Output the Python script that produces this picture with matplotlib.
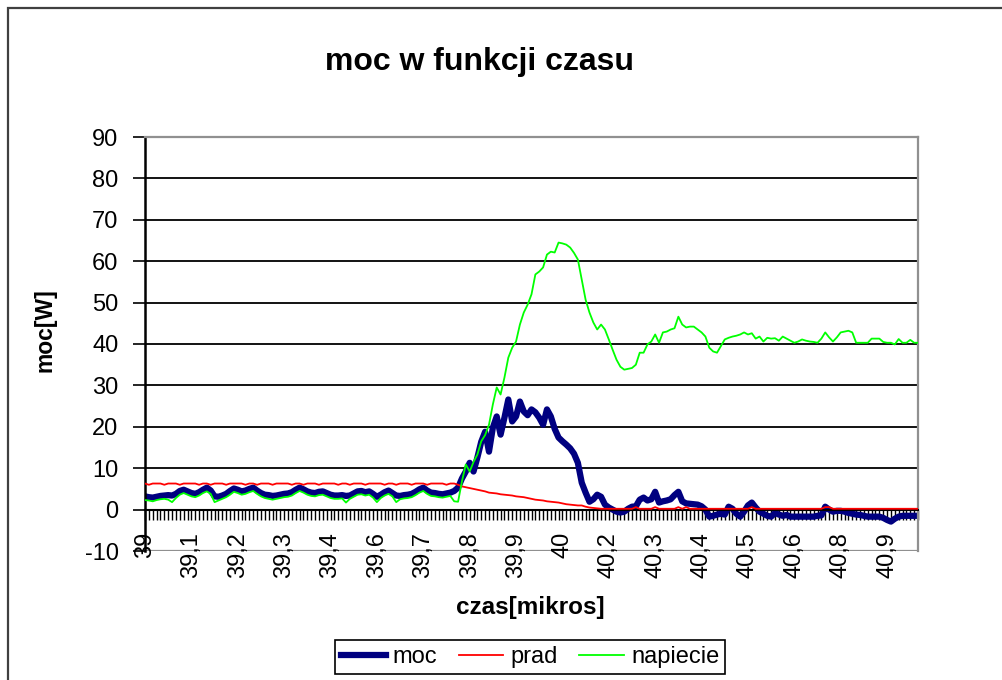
import matplotlib
matplotlib.use('Agg')
import matplotlib.pyplot as plt
from matplotlib.patches import Rectangle

plt.rcParams['font.family'] = ['Liberation Sans', 'DejaVu Sans']

# category labels shown on the x axis (every 12th sample)
czas_labels = ['39', '39,1', '39,2', '39,3', '39,4', '39,6', '39,7', '39,8', '39,9',
               '40', '40,2', '40,3', '40,4', '40,5', '40,6', '40,8', '40,9']
label_step = 12

# power [W]
moc = [3.2, 3.0, 2.9, 3.1, 3.3, 3.4, 3.5, 3.4, 3.8, 4.5,
       4.8, 4.4, 4.0, 3.8, 4.2, 4.8, 5.3, 4.6, 3.2, 3.1,
       3.4, 3.8, 4.5, 5.1, 4.8, 4.4, 4.6, 5.0, 5.3, 4.6,
       4.0, 3.6, 3.5, 3.3, 3.4, 3.6, 3.8, 3.9, 4.2, 4.8,
       5.3, 4.9, 4.4, 4.1, 4.0, 4.3, 4.4, 4.0, 3.6, 3.4,
       3.4, 3.5, 3.3, 3.4, 3.9, 4.4, 4.5, 4.2, 4.4, 3.8,
       3.1, 3.6, 4.2, 4.6, 4.0, 3.4, 3.3, 3.5, 3.6, 3.8,
       4.3, 4.9, 5.3, 4.6, 4.1, 4.0, 3.8, 3.7, 3.9, 4.1,
       4.5,
       5.3, 7.5, 9.2, 11.3, 9.2, 12.6, 16.4, 18.8, 14.0, 19.8,
       22.5, 18.1, 22.2, 26.6, 21.3, 22.5, 26.1, 23.7, 22.8, 24.2,
       23.5, 22.2, 20.5, 24.2, 22.5, 19.5, 17.4, 16.5, 15.7, 14.8,
       13.5, 11.3, 6.5, 4.1, 1.9, 2.5, 3.6, 3.1, 1.2, 0.5,
       0.0, -0.5, -0.7, -0.5, 0.2, 0.7, 0.8, 2.4, 2.9, 2.2,
       2.5, 4.3, 1.7, 2.0, 2.2, 2.5, 3.5, 4.3, 2.0, 1.5,
       1.4, 1.3, 1.2, 0.8, 0.0, -1.7, -1.5, -1.2, -1.0, -1.2,
       0.7, 0.2, -1.0, -1.7, -0.5, 1.0, 1.7, 0.5, -0.5, -1.0,
       -1.5, -1.7, -0.8, -1.2, -1.5, -1.3, -1.7, -1.7, -1.7, -1.7,
       -1.7, -1.7, -1.7, -1.5, -1.4, 0.7, 0.0, -0.5, -0.3, -0.3,
       -0.5, -0.8, -1.0, -1.2, -1.3, -1.5, -1.7, -1.7, -1.7, -1.7,
       -2.0, -2.5, -2.9, -2.2, -1.7, -1.5, -1.5, -1.5, -1.5, -1.5]

# current
prad = [6.3, 6.0, 6.3, 6.3, 6.3, 6.0, 6.3, 6.3, 6.3, 6.0,
        6.3, 6.3, 6.3, 6.3, 6.0, 6.3, 6.3, 6.0, 6.3, 6.3,
        6.3, 6.0, 6.3, 6.3, 6.3, 6.3, 6.0, 6.3, 6.3, 6.0,
        6.3, 6.3, 6.3, 6.0, 6.3, 6.3, 6.3, 6.3, 6.0, 6.3,
        6.3, 6.0, 6.3, 6.3, 6.3, 6.0, 6.3, 6.3, 6.3, 6.3,
        6.0, 6.3, 6.3, 6.0, 6.3, 6.3, 6.3, 6.0, 6.3, 6.3,
        6.3, 6.3, 6.0, 6.3, 6.3, 6.0, 6.3, 6.3, 6.3, 6.0,
        6.3, 6.3, 6.3, 6.0, 6.3, 6.3, 6.3, 6.3, 6.0, 6.3,
        6.3,
        6.0, 5.6, 5.4, 5.2, 5.0, 4.8, 4.6, 4.4, 4.1, 4.0,
        3.9, 3.7, 3.6, 3.5, 3.4, 3.2, 3.1, 3.0, 2.8, 2.6,
        2.4, 2.3, 2.2, 2.0, 1.9, 1.8, 1.7, 1.5, 1.3, 1.2,
        1.1, 1.0, 1.0, 0.7, 0.5, 0.4, 0.3, 0.2, 0.2, 0.2,
        0.2, 0.2, 0.2, 0.2, 0.2, 0.2, 0.6, 0.2, 0.2, 0.2,
        0.2, 0.6, 0.2, 0.2, 0.2, 0.2, 0.2, 0.6, 0.2, 0.6,
        0.2, 0.2, 0.2, 0.2, 0.2, 0.2, 0.2, 0.2, 0.2, 0.2,
        0.2, 0.2, 0.2, 0.2, 0.2, 0.2, 0.6, 0.2, 0.2, 0.2,
        0.2, 0.2, 0.2, 0.2, 0.2, 0.2, 0.2, 0.2, 0.2, 0.2,
        0.2, 0.2, 0.2, 0.2, 0.2, 0.6, 0.6, 0.2, 0.2, 0.2,
        0.2, 0.2, 0.2, 0.2, 0.2, 0.2, 0.2, 0.2, 0.2, 0.2,
        0.2, 0.2, 0.2, 0.2, 0.2, 0.2, 0.2, 0.2, 0.2, 0.2]

# voltage
napiecie = [2.3, 2.2, 2.0, 2.3, 2.5, 2.6, 2.4, 1.8, 2.8, 3.6,
            4.0, 3.6, 3.2, 3.0, 3.4, 4.0, 4.4, 3.8, 1.8, 2.2,
            2.6, 3.0, 3.6, 4.3, 4.0, 3.6, 3.8, 4.2, 4.5, 3.8,
            3.2, 2.8, 2.6, 2.4, 2.6, 2.8, 3.0, 3.1, 3.4, 4.0,
            4.5, 4.1, 3.6, 3.3, 3.2, 3.5, 3.6, 3.2, 2.8, 2.6,
            2.6, 2.7, 1.7, 2.6, 3.1, 3.6, 3.7, 3.4, 3.6, 2.9,
            1.8, 2.8, 3.4, 3.8, 3.2, 1.8, 2.5, 2.7, 2.8, 3.0,
            3.5, 4.1, 4.5, 3.8, 3.3, 3.2, 3.0, 2.9, 3.1, 3.3,
            2.0,
            1.9, 6.8, 10.9, 9.2, 11.5, 13.3, 16.5, 18.0, 20.5, 25.4,
            29.5, 27.8, 31.9, 36.7, 39.1, 40.6, 44.7, 47.6, 49.5, 52.0,
            56.8, 57.5, 58.5, 61.6, 62.3, 62.1, 64.5, 64.3, 64.0, 63.3,
            62.0, 60.4, 55.6, 50.7, 47.6, 45.2, 43.5, 44.7, 43.5, 41.1,
            38.6, 36.2, 34.5, 33.8, 34.0, 34.2, 35.0, 37.9, 37.9, 39.9,
            40.6, 42.3, 40.3, 42.8, 43.0, 43.5, 43.8, 46.6, 44.7, 44.0,
            44.2, 44.2, 43.5, 42.8, 41.8, 39.1, 38.2, 37.9, 39.5, 41.1,
            41.5, 41.8, 42.0, 42.3, 42.8, 42.3, 42.6, 41.3, 41.8, 40.6,
            41.5, 41.3, 41.4, 40.8, 41.8, 41.3, 40.8, 40.3, 40.6, 41.1,
            40.8, 40.6, 40.5, 40.3, 41.3, 42.8, 41.6, 40.6, 41.6, 42.8,
            43.0, 43.2, 42.8, 40.3, 40.3, 40.3, 40.3, 41.3, 41.3, 41.3,
            40.5, 40.3, 40.3, 39.9, 41.2, 40.3, 40.3, 41.0, 40.3, 40.3]

n = len(moc)
x = list(range(n))

fig = plt.figure(figsize=(10.02, 6.8), dpi=100)

# outer chart frame (runs off the right and bottom edge)
fig.patches.append(Rectangle((8/1002, -0.1), 1.2, 1.1 - 8/680, transform=fig.transFigure,
                             fill=False, edgecolor='#404040', lw=1.6))

ax = fig.add_axes([145/1002, 129/680, 773/1002, 414/680])

# category axis crosses at 0 -- set before the ticks, it resets them
ax.spines['bottom'].set_position(('data', 0))
ax.spines['bottom'].set_linewidth(1.5)
ax.spines['left'].set_linewidth(1.8)
for s in ['top', 'right']:
    ax.spines[s].set_color('#909090')
    ax.spines[s].set_linewidth(1.6)

# gridlines
for v in range(10, 90, 10):
    ax.axhline(v, color='black', lw=1.3, zorder=0.5)
ax.axhline(-10, color='#909090', lw=1.6, zorder=0.5)

ax.plot(x, moc, color='#000080', lw=4.5, label='moc', zorder=2)
ax.plot(x, prad, color='#ff0000', lw=1.3, label='prad', zorder=3)
ax.plot(x, napiecie, color='#00ff00', lw=1.3, label='napiecie', zorder=4)

ax.set_xlim(0, n - 1)
ax.set_ylim(-10, 90)
ax.set_yticks(range(-10, 91, 10))
ax.set_yticklabels([str(v) for v in range(-10, 91, 10)])

ticklabels = [''] * n
for j, lab in enumerate(czas_labels):
    ticklabels[j * label_step] = lab
ax.set_xticks(x)
ax.set_xticklabels(ticklabels)

ax.tick_params(axis='y', direction='out', length=9, width=1.2, pad=10, labelsize=17)
ax.tick_params(axis='x', direction='out', length=7, width=1.0, pad=9, labelsize=17,
               labelrotation=90)

fig.text(0.479, 0.909, 'moc w funkcji czasu', ha='center', va='center',
         fontsize=23, fontweight='bold')
fig.text(0.045, 0.515, 'moc[W]', rotation=90, ha='center', va='center',
         fontsize=16.5, fontweight='bold')
fig.text(0.529, 0.107, 'czas[mikros]', ha='center', va='center',
         fontsize=17.5, fontweight='bold')

leg = fig.legend(loc='center', bbox_to_anchor=(0.529, 0.034), ncol=3,
                 fancybox=False, edgecolor='black', framealpha=1, fontsize=17,
                 handlelength=1.9, handletextpad=0.3, columnspacing=0.9,
                 borderpad=0.25)
leg.get_frame().set_linewidth(1.2)

fig.savefig('out.png', dpi=100)
